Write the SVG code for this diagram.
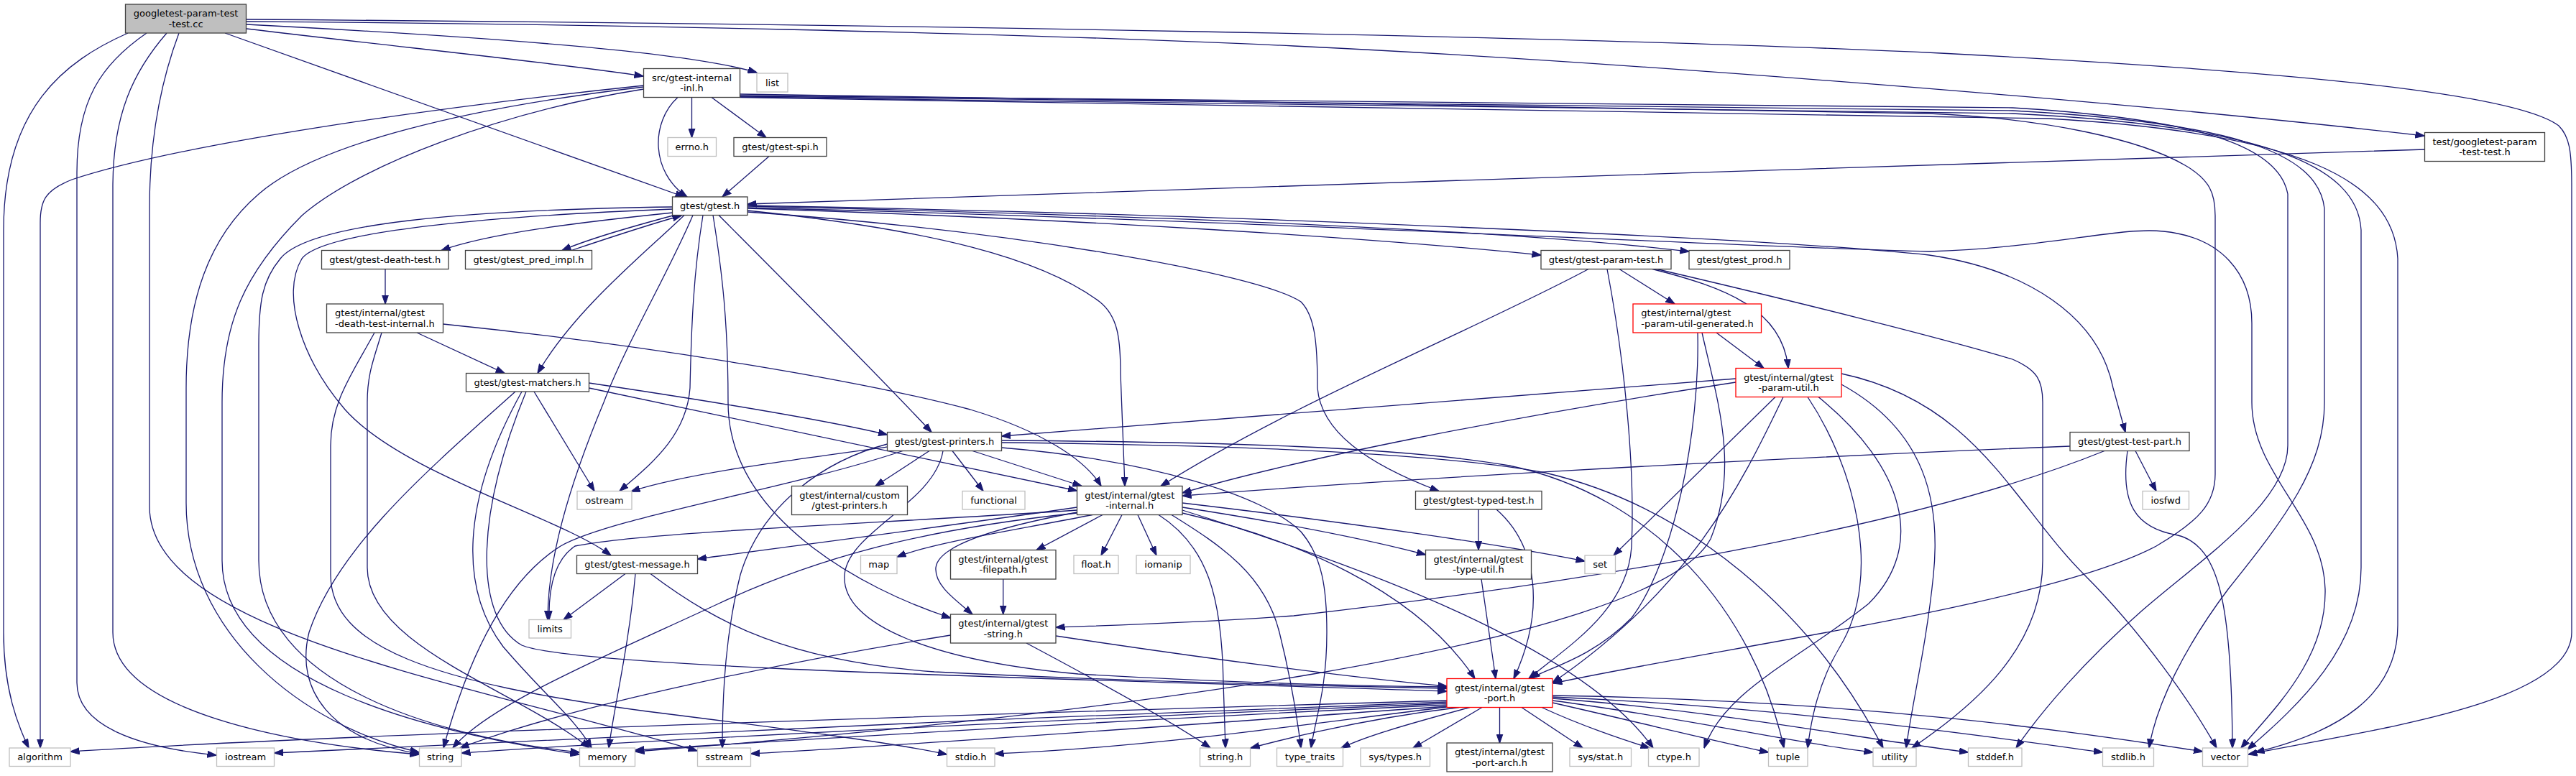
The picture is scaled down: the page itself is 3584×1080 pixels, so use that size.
<svg xmlns="http://www.w3.org/2000/svg" width="3584" height="1080" viewBox="0 0 3584 1080">
<style>
.t{font-family:"DejaVu Sans","Liberation Sans",sans-serif;font-size:13px;fill:#000;text-anchor:middle}
.tl{font-family:"DejaVu Sans","Liberation Sans",sans-serif;font-size:13px;fill:#000;text-anchor:start}
.n{fill:#fff;stroke:#404040;stroke-width:1.3}
.s{fill:#fff;stroke:#bfbfbf;stroke-width:1.3}
.r{fill:#fff;stroke:#ff0000;stroke-width:1.3}
.root{fill:#bfbfbf;stroke:#404040;stroke-width:1.3}
.e path{fill:none;stroke:#191970;stroke-width:1.3;marker-end:url(#ah)}
</style>
<defs>
<marker id="ah" viewBox="0 0 13 10" refX="12.5" refY="5" markerWidth="13" markerHeight="10" markerUnits="userSpaceOnUse" orient="auto">
<path d="M0,0.5 L13,5 L0,9.5 z" fill="#191970" stroke="#191970" stroke-width="1"/>
</marker>
</defs>
<rect x="0" y="0" width="3584" height="1080" fill="#fff"/>
<g id="connectors" class="e">
<path d="M178,46 C 90,85 5,150 5,320 L 5,880 C 5,960 25,1010 40,1041"/>
<path d="M204,46 C 140,90 107,140 107,240 L 107,950 C 107,1010 190,1040 301,1051"/>
<path d="M232,46 C 185,100 157,160 157,260 L 157,880 C 157,990 400,1035 583,1050"/>
<path d="M249,46 C 225,110 208,190 208,290 L 208,705 C 208,880 650,950 970,1045"/>
<path d="M313,46 L 952,274"/>
<path d="M343,40 C 550,65 780,88 895,106"/>
<path d="M343,34 C 650,50 950,70 1053,101"/>
<path d="M343,30 C 800,33 1400,45 1800,64 C 2200,83 2900,135 3373,189"/>
<path d="M343,27 C 1200,33 2200,50 2700,74 C 3200,100 3500,130 3560,175 C 3575,190 3578,210 3578,260 L 3578,880 C 3578,980 3300,1015 3128,1050"/>
<path d="M943,135.5 C 905,170 905,240 956,274"/>
<path d="M962.5,135.5 L 962.5,191.5"/>
<path d="M990,135.5 L 1066,191.5"/>
<path d="M895.5,119 C 600,150 250,200 100,250 C 62,265 56,280 56,310 L 56,1041"/>
<path d="M895.5,121 C 650,150 440,200 360,270 C 290,330 259,420 259,540 L 259,700 C 259,880 420,1010 583,1047"/>
<path d="M895.5,124 C 700,155 500,230 420,300 C 340,380 309,450 309,560 L 309,780 C 309,950 600,1020 806,1050"/>
<path d="M1029.5,131 C 1600,140 2400,150 2684,158 C 2850,165 2980,195 3040,230 C 3075,250 3082,270 3082,300 L 3082,660 C 3082,700 3060,725 3000,760 C 2850,840 2400,900 2161,951"/>
<path d="M1029.5,133 C 1700,140 2500,145 2800,150 C 3050,165 3170,200 3183,270 L 3183,620 C 3183,700 3060,780 2980,850 C 2900,920 2840,990 2805,1041"/>
<path d="M1029.5,134 C 1700,142 2500,148 2800,154 C 3100,170 3225,210 3234,290 L 3234,560 C 3234,650 3180,720 3100,820 C 3040,900 3000,980 2990,1041"/>
<path d="M1029.5,135 C 1700,145 2500,152 2800,158 C 3150,175 3280,230 3285,320 L 3285,790 C 3285,900 3200,980 3127,1043"/>
<path d="M1029.5,135.5 C 1700,148 2500,155 2850,165 C 3200,185 3330,250 3336,360 L 3336,870 C 3336,970 3250,1020 3138,1047"/>
<path d="M936,296 C 800,310 680,325 614,348.5"/>
<path d="M940,299 C 880,315 820,332 782,348.5"/>
<path d="M795,348.5 C 850,330 905,312 948,300"/>
<path d="M936,291 C 700,300 450,320 420,360 C 390,410 420,500 480,570 C 560,660 780,720 850,773"/>
<path d="M936,288 C 650,292 430,310 390,360 C 365,390 360,420 360,480 L 360,780 C 360,950 600,1025 806,1047"/>
<path d="M952,299.5 C 900,350 800,430 748,519.5"/>
<path d="M964,299.5 C 930,380 870,480 840,560 C 790,680 762,780 762,862.5"/>
<path d="M978,299.5 C 965,380 962,450 960,540 C 955,610 900,650 862,683.5"/>
<path d="M992,299.5 C 1005,380 1013,450 1013,560 C 1013,720 1200,820 1322.5,860"/>
<path d="M1000,299.5 C 1100,400 1220,520 1296,601.5"/>
<path d="M1040,293 C 1300,320 1450,360 1530,420 C 1555,440 1559,470 1559,520 L 1565,676.5"/>
<path d="M1040,295 C 1400,320 1750,380 1810,420 C 1830,440 1833,480 1833,540 C 1838,600 1900,645 2002,683.5"/>
<path d="M1040,290 C 1500,305 1900,330 2144,355"/>
<path d="M1040,287 C 1600,300 2100,320 2350,350"/>
<path d="M1040,286 C 1800,300 2500,335 2684,355 C 2820,375 2920,440 2940,540 L 2957,601.5"/>
<path d="M1040,289 C 1700,305 2450,345 2684,350 C 2850,345 2950,315 3010,322 C 3090,330 3133,380 3133,450 L 3133,560 C 3133,660 3233,720 3235,820 C 3237,920 3160,990 3118,1041"/>
<path d="M3373.5,208 C 2600,232 1800,258 1040,284"/>
<path d="M1070,217.5 L 1005,274"/>
<path d="M536,374.5 L 536,423"/>
<path d="M580,463 L 702,519.5"/>
<path d="M616.5,451 C 900,480 1200,530 1350,570 C 1450,600 1510,640 1532,676.5"/>
<path d="M521,463 C 490,520 460,560 460,620 L 460,800 C 460,900 600,950 900,990 C 1100,1015 1250,1035 1317.5,1050"/>
<path d="M531,463 C 520,500 511,520 511,560 L 511,790 C 511,900 720,960 820,1041"/>
<path d="M717,545 C 600,650 470,760 430,880 C 410,960 460,1030 583.5,1049"/>
<path d="M726,545 C 640,700 640,820 700,900 C 760,970 800,1000 823,1041"/>
<path d="M732,545 C 660,720 660,860 726,898 C 800,930 1500,945 2013,962"/>
<path d="M743,545 L 827,683.5"/>
<path d="M819.5,533 C 1000,560 1150,585 1234.5,605"/>
<path d="M819.5,540 C 1100,600 1350,650 1498.5,683"/>
<path d="M870,798.5 L 784,862.5"/>
<path d="M884,798.5 C 875,900 855,980 847,1041"/>
<path d="M905,798.5 C 1000,870 1100,920 1300,935 C 1600,950 1850,955 2013,958"/>
<path d="M1293,627.5 L 1218,676.5"/>
<path d="M1325,627.5 L 1368,683.5"/>
<path d="M1353,627.5 L 1505,676.5"/>
<path d="M1234.5,618 C 1150,640 1060,700 1030,800 C 1010,880 1005,960 1005,1041"/>
<path d="M1234.5,622 C 1100,640 950,660 878,684"/>
<path d="M1256,627.5 C 1100,680 850,720 780,760 C 700,810 650,920 617,1041"/>
<path d="M1312,627.5 C 1300,700 1180,740 1175,800 C 1170,870 1300,920 1500,938 C 1700,950 1900,955 2013,956"/>
<path d="M1393.5,613 C 1700,615 1950,622 2100,648 C 2300,690 2440,850 2482,1041"/>
<path d="M1393.5,616 C 1700,619 2000,630 2150,658 C 2350,705 2520,850 2620,1041"/>
<path d="M1393.5,623 C 1600,640 1760,690 1810,740 C 1840,775 1846,820 1846,880 C 1846,960 1830,1000 1824,1041"/>
<path d="M1520,716.5 C 1400,740 1300,755 1248,775"/>
<path d="M1534,716.5 L 1442,765.5"/>
<path d="M1561,716.5 L 1532,773"/>
<path d="M1583,716.5 L 1609,773"/>
<path d="M1498.5,713 C 1380,735 1305,760 1302,790 C 1300,815 1330,835 1353,855"/>
<path d="M1498.5,706 C 1300,735 1100,760 970.5,778"/>
<path d="M1498.5,710 C 1200,730 900,740 800,760 C 770,780 763,820 764,862.5"/>
<path d="M1498.5,714 C 1300,735 1150,770 1000,840 C 850,910 680,980 630,1041"/>
<path d="M1612,716.5 C 1680,760 1700,830 1702,950 L 1705,1041"/>
<path d="M1630,716.5 C 1700,760 1760,800 1780,880 C 1795,940 1805,1000 1810,1041"/>
<path d="M1645,714 C 1800,750 1970,820 2052,944.5"/>
<path d="M1645,706 C 1800,730 1900,750 1983.5,772"/>
<path d="M1645,700 C 1900,730 2100,760 2205,781"/>
<path d="M1645,710 C 1900,790 2200,900 2300,1041"/>
<path d="M1469,885 C 1700,920 1900,945 2013,955"/>
<path d="M1322.5,884 C 1100,920 800,980 640,1041"/>
<path d="M1428,895 C 1550,960 1640,1010 1684,1041"/>
<path d="M1395.7,806 L 1395.7,855"/>
<path d="M2057,709 L 2057,765.5"/>
<path d="M2082,709 C 2140,760 2150,850 2106,944.5"/>
<path d="M2061,806 L 2081,944.5"/>
<path d="M2880,621 C 2400,640 1900,670 1645,690"/>
<path d="M2928,627.5 C 2700,720 2300,800 1800,857 C 1650,868 1550,870 1469,873"/>
<path d="M2971,627.5 L 3000,683.5"/>
<path d="M2960,627.5 C 2950,700 2970,735 3030,745 C 3090,760 3105,850 3106,1041"/>
<path d="M2210,374.5 C 2050,460 1800,560 1615,676.5"/>
<path d="M2236,374.5 C 2260,500 2275,650 2270,760 C 2265,850 2180,900 2127,944.5"/>
<path d="M2253,374.5 L 2330,423"/>
<path d="M2299,374.5 C 2400,400 2480,430 2488,512.5"/>
<path d="M2305,374.5 C 2500,420 2700,470 2800,500 C 2835,515 2842,530 2842,560 L 2842,780 C 2842,900 2750,980 2660,1041"/>
<path d="M2362,463 C 2365,600 2330,780 2270,860 C 2210,920 2150,930 2130,944.5"/>
<path d="M2388,463 L 2454,512.5"/>
<path d="M2368,463 C 2390,560 2420,650 2380,750 C 2300,900 1500,1000 884,1046"/>
<path d="M2415,527 C 2000,560 1600,590 1393.5,607"/>
<path d="M2415,532 C 2100,580 1800,640 1645,686"/>
<path d="M2470,552.5 L 2245,773"/>
<path d="M2481,552.5 C 2420,680 2350,820 2160,950"/>
<path d="M2530,552.5 C 2650,650 2680,760 2600,840 C 2500,920 2400,960 2371,1041"/>
<path d="M2515,552.5 C 2580,650 2620,800 2560,900 C 2530,950 2520,1000 2515,1041"/>
<path d="M2562,520 C 2750,560 2800,700 2900,800 C 2980,880 3050,980 3084,1041"/>
<path d="M2562,535 C 2680,600 2700,700 2690,800 C 2680,900 2660,980 2652,1041"/>
<path d="M2013,975 C 1500,990 500,1020 98,1046"/>
<path d="M2013,977 C 1500,995 700,1030 381.5,1048"/>
<path d="M2013,979 C 1500,1000 900,1030 642,1048"/>
<path d="M2013,981 C 1600,1000 1100,1030 883.5,1044"/>
<path d="M2013,983 C 1700,1005 1300,1035 1044.5,1049"/>
<path d="M2013,984 C 1800,1010 1600,1040 1384,1049"/>
<path d="M2030,984.5 C 1900,1000 1800,1025 1740,1041"/>
<path d="M2045,984.5 C 1950,1010 1900,1025 1866,1041"/>
<path d="M2062,984.5 L 1966,1041"/>
<path d="M2086.5,984.5 L 2086.5,1034"/>
<path d="M2117,984.5 L 2202,1041"/>
<path d="M2145,984.5 C 2200,1010 2260,1030 2295,1041"/>
<path d="M2160,978 C 2300,1010 2400,1035 2460.5,1047"/>
<path d="M2160,975 C 2350,1000 2500,1035 2606,1047"/>
<path d="M2160,972 C 2400,990 2600,1030 2738.5,1047"/>
<path d="M2160,970 C 2500,985 2800,1030 2925.5,1047"/>
<path d="M2160,968 C 2600,975 2900,1020 3064.5,1046"/>
</g>
<g id="n0"><rect class="root" x="174.5" y="6" width="168" height="40"/><text class="t" x="258.5" y="23">googletest-param-test</text><text class="t" x="258.5" y="37.5">-test.cc</text></g>
<g id="n1"><rect class="n" x="895.5" y="95.5" width="134" height="40"/><text class="t" x="962.5" y="112.7">src/gtest-internal</text><text class="t" x="962.5" y="127.2">-inl.h</text></g>
<g id="n2"><rect class="s" x="1053" y="102" width="43" height="26"/><text class="t" x="1074.5" y="119.5">list</text></g>
<g id="n3"><rect class="s" x="929" y="191.5" width="67.5" height="26"/><text class="t" x="962.7" y="208.7">errno.h</text></g>
<g id="n4"><rect class="n" x="1021" y="191.5" width="129" height="26"/><text class="t" x="1085.5" y="208.7">gtest/gtest-spi.h</text></g>
<g id="n5"><rect class="n" x="935.5" y="274" width="104.5" height="25.5"/><text class="t" x="987.7" y="291">gtest/gtest.h</text></g>
<g id="n6"><rect class="n" x="447.5" y="348.5" width="176.5" height="26"/><text class="t" x="535.7" y="365.7">gtest/gtest-death-test.h</text></g>
<g id="n7"><rect class="n" x="647.5" y="348.5" width="176" height="26"/><text class="t" x="735.5" y="365.7">gtest/gtest_pred_impl.h</text></g>
<g id="n8"><rect class="n" x="454.5" y="423" width="162" height="40"/><text class="tl" x="466" y="440.2">gtest/internal/gtest</text><text class="tl" x="466" y="454.7">-death-test-internal.h</text></g>
<g id="n9"><rect class="n" x="648.5" y="519.5" width="171" height="25.5"/><text class="t" x="734" y="536.5">gtest/gtest-matchers.h</text></g>
<g id="n10"><rect class="n" x="2144" y="348.5" width="181" height="26"/><text class="t" x="2234.5" y="365.7">gtest/gtest-param-test.h</text></g>
<g id="n11"><rect class="n" x="2350" y="348.5" width="140" height="26"/><text class="t" x="2420" y="365.7">gtest/gtest_prod.h</text></g>
<g id="n12"><rect class="r" x="2272" y="423" width="178.5" height="40"/><text class="tl" x="2283.3" y="440.2">gtest/internal/gtest</text><text class="tl" x="2283.3" y="454.7">-param-util-generated.h</text></g>
<g id="n13"><rect class="r" x="2415" y="512.5" width="147" height="40"/><text class="t" x="2488.5" y="529.7">gtest/internal/gtest</text><text class="t" x="2488.5" y="544.2">-param-util.h</text></g>
<g id="n14"><rect class="n" x="3373.5" y="184.5" width="167" height="40"/><text class="t" x="3457" y="201.7">test/googletest-param</text><text class="t" x="3457" y="216.2">-test-test.h</text></g>
<g id="n15"><rect class="s" x="803" y="683.5" width="76" height="25.5"/><text class="t" x="841" y="700.5">ostream</text></g>
<g id="n16"><rect class="n" x="802.5" y="773" width="168" height="25.5"/><text class="t" x="886.5" y="790">gtest/gtest-message.h</text></g>
<g id="n17"><rect class="s" x="736" y="862.5" width="58.5" height="25.5"/><text class="t" x="765.2" y="879.5">limits</text></g>
<g id="n18"><rect class="s" x="13" y="1041" width="85" height="25.5"/><text class="t" x="55.5" y="1058">algorithm</text></g>
<g id="n19"><rect class="s" x="301.5" y="1041" width="80" height="25.5"/><text class="t" x="341.5" y="1058">iostream</text></g>
<g id="n20"><rect class="s" x="583.5" y="1041" width="58.5" height="25.5"/><text class="t" x="612.7" y="1058">string</text></g>
<g id="n21"><rect class="s" x="806.5" y="1041" width="77" height="25.5"/><text class="t" x="845" y="1058">memory</text></g>
<g id="n22"><rect class="n" x="1234.5" y="601.5" width="159" height="26"/><text class="t" x="1314" y="618.7">gtest/gtest-printers.h</text></g>
<g id="n23"><rect class="n" x="1101.5" y="676.5" width="161" height="40"/><text class="t" x="1182" y="693.7">gtest/internal/custom</text><text class="t" x="1182" y="708.2">/gtest-printers.h</text></g>
<g id="n24"><rect class="s" x="1339" y="683.5" width="87" height="25.5"/><text class="t" x="1382.5" y="700.5">functional</text></g>
<g id="n25"><rect class="n" x="1498.5" y="676.5" width="146.5" height="40"/><text class="t" x="1571.7" y="693.7">gtest/internal/gtest</text><text class="t" x="1571.7" y="708.2">-internal.h</text></g>
<g id="n26"><rect class="s" x="1197.5" y="773" width="50.5" height="25.5"/><text class="t" x="1222.7" y="790">map</text></g>
<g id="n27"><rect class="n" x="1322.5" y="765.5" width="146.5" height="40.5"/><text class="t" x="1395.7" y="782.7">gtest/internal/gtest</text><text class="t" x="1395.7" y="797.2">-filepath.h</text></g>
<g id="n28"><rect class="s" x="1494" y="773" width="62" height="25.5"/><text class="t" x="1525" y="790">float.h</text></g>
<g id="n29"><rect class="s" x="1581" y="773" width="75" height="25.5"/><text class="t" x="1618.5" y="790">iomanip</text></g>
<g id="n30"><rect class="n" x="1322.5" y="855" width="146.5" height="40"/><text class="t" x="1395.7" y="872.2">gtest/internal/gtest</text><text class="t" x="1395.7" y="886.7">-string.h</text></g>
<g id="n31"><rect class="s" x="970.5" y="1041" width="74" height="25.5"/><text class="t" x="1007.5" y="1058">sstream</text></g>
<g id="n32"><rect class="s" x="1317.5" y="1041" width="66.5" height="25.5"/><text class="t" x="1350.7" y="1058">stdio.h</text></g>
<g id="n33"><rect class="s" x="1669.5" y="1041" width="70" height="25.5"/><text class="t" x="1704.5" y="1058">string.h</text></g>
<g id="n34"><rect class="s" x="1776.5" y="1041" width="92" height="25.5"/><text class="t" x="1822.5" y="1058">type_traits</text></g>
<g id="n35"><rect class="n" x="1969.5" y="683.5" width="175.5" height="25.5"/><text class="t" x="2057.2" y="700.5">gtest/gtest-typed-test.h</text></g>
<g id="n36"><rect class="n" x="1983.5" y="765.5" width="147" height="40.5"/><text class="t" x="2057" y="782.7">gtest/internal/gtest</text><text class="t" x="2057" y="797.2">-type-util.h</text></g>
<g id="n37"><rect class="s" x="2205" y="773" width="42.5" height="25.5"/><text class="t" x="2226.2" y="790">set</text></g>
<g id="n38"><rect class="r" x="2013" y="944.5" width="147" height="40"/><text class="t" x="2086.5" y="961.7">gtest/internal/gtest</text><text class="t" x="2086.5" y="976.2">-port.h</text></g>
<g id="n39"><rect class="s" x="1893" y="1041" width="96.5" height="25.5"/><text class="t" x="1941.2" y="1058">sys/types.h</text></g>
<g id="n40"><rect class="n" x="2013" y="1034" width="147" height="40"/><text class="t" x="2086.5" y="1051.2">gtest/internal/gtest</text><text class="t" x="2086.5" y="1065.7">-port-arch.h</text></g>
<g id="n41"><rect class="s" x="2184" y="1041" width="85.5" height="25.5"/><text class="t" x="2226.7" y="1058">sys/stat.h</text></g>
<g id="n42"><rect class="s" x="2293.5" y="1041" width="70.5" height="25.5"/><text class="t" x="2328.7" y="1058">ctype.h</text></g>
<g id="n43"><rect class="s" x="2460.5" y="1041" width="54.5" height="25.5"/><text class="t" x="2487.7" y="1058">tuple</text></g>
<g id="n44"><rect class="s" x="2606" y="1041" width="60" height="25.5"/><text class="t" x="2636" y="1058">utility</text></g>
<g id="n45"><rect class="n" x="2880" y="601.5" width="166" height="26"/><text class="t" x="2963" y="618.7">gtest/gtest-test-part.h</text></g>
<g id="n46"><rect class="s" x="2981" y="683.5" width="64.5" height="25.5"/><text class="t" x="3013.2" y="700.5">iosfwd</text></g>
<g id="n47"><rect class="s" x="2738.5" y="1041" width="74.5" height="25.5"/><text class="t" x="2775.7" y="1058">stddef.h</text></g>
<g id="n48"><rect class="s" x="2925.5" y="1041" width="71" height="25.5"/><text class="t" x="2961" y="1058">stdlib.h</text></g>
<g id="n49"><rect class="s" x="3064.5" y="1041" width="63" height="25.5"/><text class="t" x="3096" y="1058">vector</text></g>
</svg>
